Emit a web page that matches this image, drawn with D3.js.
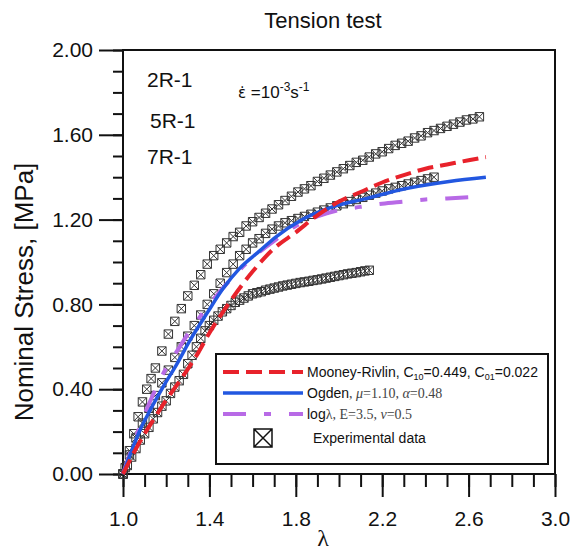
<!DOCTYPE html>
<html>
<head>
<meta charset="utf-8">
<script src="https://cdn.jsdelivr.net/npm/d3@7"></script>
<style>
  body { margin: 0; background: #fff; }
  text { font-family: "Liberation Sans", Arial, sans-serif; fill: #111; }
  .serif { font-family: "Liberation Serif", "Times New Roman", serif; }
</style>
</head>
<body>
<svg id="chart" width="574" height="554"></svg>
<script>
const lam2R = [1.00,1.01,1.03,1.05,1.07,1.09,1.11,1.13,1.15,1.18,1.21,1.24,1.27,1.30,1.33,1.36,1.39,1.42,1.45,1.48,1.51,1.54,1.57,1.60,1.63,1.66,1.69,1.72,1.75,1.78,1.81,1.84,1.87,1.90,1.93,1.96,1.99,2.02,2.05,2.08,2.11,2.14,2.17,2.20,2.23,2.26,2.29,2.32,2.35,2.38,2.41,2.44,2.47,2.50,2.53,2.56,2.59,2.62,2.65];
const sig2R = [0.00,0.03,0.11,0.19,0.27,0.34,0.40,0.45,0.50,0.58,0.66,0.72,0.78,0.84,0.89,0.94,0.99,1.03,1.06,1.09,1.12,1.14,1.17,1.19,1.21,1.23,1.25,1.27,1.29,1.31,1.33,1.345,1.36,1.38,1.395,1.41,1.425,1.44,1.455,1.47,1.48,1.495,1.51,1.52,1.535,1.55,1.56,1.57,1.585,1.595,1.61,1.62,1.63,1.64,1.65,1.66,1.67,1.675,1.685];

const lam5R = [1.00,1.03,1.06,1.09,1.12,1.15,1.18,1.21,1.24,1.27,1.30,1.33,1.36,1.39,1.42,1.45,1.48,1.51,1.54,1.57,1.60,1.63,1.66,1.69,1.72,1.75,1.78,1.81,1.84,1.87,1.90,1.93,1.96,1.99,2.02,2.05,2.08,2.11,2.14,2.17,2.20,2.23,2.26,2.29,2.32,2.35,2.38,2.41,2.44];
const sig5R = [0.00,0.09,0.17,0.24,0.31,0.37,0.43,0.49,0.55,0.60,0.65,0.70,0.75,0.80,0.85,0.90,0.95,0.99,1.03,1.06,1.09,1.11,1.135,1.155,1.17,1.185,1.195,1.205,1.215,1.225,1.235,1.245,1.255,1.265,1.275,1.285,1.295,1.305,1.315,1.325,1.335,1.345,1.352,1.36,1.368,1.376,1.384,1.392,1.40];

const lam7R = [1.00,1.02,1.04,1.06,1.08,1.10,1.12,1.14,1.16,1.18,1.20,1.22,1.24,1.26,1.28,1.30,1.32,1.34,1.36,1.38,1.40,1.42,1.44,1.46,1.48,1.50,1.52,1.54,1.56,1.58,1.60,1.62,1.64,1.66,1.68,1.70,1.72,1.74,1.76,1.78,1.80,1.82,1.84,1.86,1.88,1.90,1.92,1.94,1.96,1.98,2.00,2.02,2.04,2.06,2.08,2.10,2.12,2.14];
const sig7R = [0.00,0.04,0.08,0.12,0.16,0.19,0.22,0.26,0.29,0.32,0.345,0.38,0.41,0.44,0.47,0.52,0.56,0.60,0.64,0.675,0.70,0.725,0.745,0.765,0.78,0.795,0.81,0.82,0.83,0.84,0.85,0.855,0.86,0.867,0.872,0.877,0.882,0.887,0.891,0.895,0.899,0.903,0.906,0.909,0.913,0.916,0.92,0.924,0.928,0.932,0.936,0.94,0.944,0.947,0.95,0.954,0.958,0.961];

// model curves
const lamMR = [1.00,1.05,1.10,1.15,1.20,1.25,1.30,1.35,1.40,1.45,1.50,1.60,1.70,1.80,1.90,2.00,2.10,2.20,2.30,2.40,2.50,2.60,2.68];
const sigMR = [0.00,0.10,0.19,0.27,0.35,0.42,0.495,0.575,0.665,0.745,0.82,0.955,1.065,1.14,1.22,1.285,1.33,1.375,1.41,1.44,1.46,1.48,1.495];

const lamOg = [1.00,1.04,1.08,1.125,1.185,1.25,1.31,1.39,1.46,1.54,1.63,1.71,1.82,1.97,2.13,2.28,2.51,2.68];
const sigOg = [0.00,0.11,0.21,0.30,0.41,0.52,0.63,0.76,0.87,0.97,1.05,1.12,1.195,1.26,1.30,1.34,1.38,1.40];

const lamLog = [1.00,1.04,1.08,1.12,1.16,1.20,1.25,1.30,1.40,1.50,1.60,1.70,1.80,1.90,2.00,2.10,2.20,2.30,2.40,2.50,2.68];
const sigLog = [0.00,0.12,0.23,0.33,0.42,0.50,0.58,0.66,0.80,0.92,1.02,1.10,1.17,1.215,1.245,1.26,1.275,1.285,1.295,1.30,1.31];

const xMajor = [1.0,1.4,1.8,2.2,2.6,3.0];
const yMajor = [0.0,0.4,0.8,1.2,1.6,2.0];
const sampleNames = ["2R-1","5R-1","7R-1"];

const svg = d3.select("#chart");
const x = d3.scaleLinear().domain([1, 3]).range([123, 555]);
const y = d3.scaleLinear().domain([0, 2]).range([474, 50]);

// axes
const xMinor = d3.range(10, 31).map(v => v / 10);
const yMinor = d3.range(0, 21).map(v => v / 10);

svg.append("g").attr("transform", "translate(0,474)")
  .call(d3.axisBottom(x).tickValues(xMinor).tickSize(13).tickFormat(""))
  .call(g => g.select(".domain").remove());
svg.append("g").attr("transform", "translate(0,474)")
  .call(d3.axisBottom(x).tickValues(xMajor).tickSize(23).tickPadding(14).tickFormat(d3.format(".1f")))
  .call(g => g.select(".domain").remove());
svg.append("g").attr("transform", "translate(123,0)")
  .call(d3.axisLeft(y).tickValues(yMinor).tickSize(10).tickFormat(""))
  .call(g => g.select(".domain").remove());
svg.append("g").attr("transform", "translate(123,0)")
  .call(d3.axisLeft(y).tickValues(yMajor).tickSize(24).tickPadding(6).tickFormat(d3.format(".2f")))
  .call(g => g.select(".domain").remove());

svg.selectAll(".tick line").attr("stroke", "#111").attr("stroke-width", 2);
svg.selectAll(".tick text").attr("font-size", 21).attr("fill", "#111")
  .attr("font-family", "Liberation Sans, Arial, sans-serif");

// frame
svg.append("rect")
  .attr("x", x(1)).attr("y", y(2))
  .attr("width", x(3) - x(1)).attr("height", y(0) - y(2))
  .attr("fill", "none").attr("stroke", "#111").attr("stroke-width", 2);

// experimental markers
function boxX(cx, cy, h) {
  return `M${cx-h},${cy-h}h${2*h}v${2*h}h${-2*h}Z` +
         `M${cx-h},${cy-h}L${cx+h},${cy+h}M${cx+h},${cy-h}L${cx-h},${cy+h}`;
}
[[lam2R, sig2R], [lam5R, sig5R], [lam7R, sig7R]].forEach(([lx, sy]) => {
  svg.append("g").selectAll("path")
    .data(lx.map((l, i) => [l, sy[i]]))
    .join("path")
    .attr("d", d => boxX(x(d[0]), y(d[1]), 4.2))
    .attr("fill", "none")
    .attr("stroke", "#333")
    .attr("stroke-width", 1);
});

// model lines
const line = d3.line().x(d => x(d[0])).y(d => y(d[1])).curve(d3.curveMonotoneX);
const models = [
  {lx: lamLog, sy: sigLog, color: "#b86ae6", dash: "23,18,7,18", w: 4},
  {lx: lamOg, sy: sigOg, color: "#2257e0", dash: null, w: 3.5},
  {lx: lamMR, sy: sigMR, color: "#e8222b", dash: "16,7", w: 4}
];
models.forEach(m => {
  svg.append("path")
    .datum(m.lx.map((l, i) => [l, m.sy[i]]))
    .attr("d", line)
    .attr("fill", "none")
    .attr("stroke", m.color)
    .attr("stroke-width", m.w)
    .attr("stroke-dasharray", m.dash);
});

// titles
svg.append("text").attr("x", 323).attr("y", 28).attr("text-anchor", "middle")
  .attr("font-size", 22).text("Tension test");
svg.append("text").attr("transform", "translate(33,292) rotate(-90)")
  .attr("text-anchor", "middle").attr("font-size", 26).text("Nominal Stress, [MPa]");
svg.append("text").attr("class", "serif").attr("x", 323).attr("y", 546)
  .attr("text-anchor", "middle").attr("font-size", 24).text("λ");

// sample labels
const labX = [147, 150, 147], labY = [87, 128, 164];
sampleNames.forEach((s, i) => {
  svg.append("text").attr("x", labX[i]).attr("y", labY[i]).attr("font-size", 21).text(s);
});

// strain rate
const rate = svg.append("text").attr("x", 238).attr("y", 98).attr("font-size", 17);
rate.append("tspan").attr("font-family", "DejaVu Sans").attr("font-size", 15).text("ε\u0307");
rate.append("tspan").text(" =10");
rate.append("tspan").attr("dy", -7).attr("font-size", 12).text("-3");
rate.append("tspan").attr("dy", 7).text("s");
rate.append("tspan").attr("dy", -7).attr("font-size", 12).text("-1");

// legend
const lg = svg.append("g");
lg.append("rect").attr("x", 216).attr("y", 354).attr("width", 332).attr("height", 110)
  .attr("fill", "#fff").attr("stroke", "#111").attr("stroke-width", 2);
const rows = [372, 393, 414];
models.slice().reverse().forEach((m, i) => {
  lg.append("line").attr("x1", 223).attr("x2", 303).attr("y1", rows[i]).attr("y2", rows[i])
    .attr("stroke", m.color).attr("stroke-width", m.w).attr("stroke-dasharray", m.dash);
});
const t1 = lg.append("text").attr("x", 307).attr("y", rows[0] + 5).attr("font-size", 14);
t1.append("tspan").text("Mooney-Rivlin, C");
t1.append("tspan").attr("font-size", 9).attr("dy", 3).text("10");
t1.append("tspan").attr("dy", -3).text("=0.449, C");
t1.append("tspan").attr("font-size", 9).attr("dy", 3).text("01");
t1.append("tspan").attr("dy", -3).text("=0.022");

const t2 = lg.append("text").attr("x", 307).attr("y", rows[1] + 5).attr("font-size", 14);
t2.append("tspan").text("Ogden");
t2.append("tspan").attr("class", "serif").attr("fill", "#444").text(", ");
t2.append("tspan").attr("class", "serif").attr("font-style", "italic").attr("fill", "#444").text("μ");
t2.append("tspan").attr("class", "serif").attr("fill", "#444").text("=1.10, ");
t2.append("tspan").attr("class", "serif").attr("font-style", "italic").attr("fill", "#444").text("α");
t2.append("tspan").attr("class", "serif").attr("fill", "#444").text("=0.48");

const t3 = lg.append("text").attr("x", 307).attr("y", rows[2] + 5).attr("font-size", 14);
t3.append("tspan").text("log");
t3.append("tspan").attr("class", "serif").attr("fill", "#444").text("λ, E=3.5, ");
t3.append("tspan").attr("class", "serif").attr("font-style", "italic").attr("fill", "#444").text("ν");
t3.append("tspan").attr("class", "serif").attr("fill", "#444").text("=0.5");

lg.append("path").attr("d", boxX(263, 438, 9))
  .attr("fill", "none").attr("stroke", "#111").attr("stroke-width", 1.5);
lg.append("text").attr("x", 313).attr("y", 443).attr("font-size", 14).text("Experimental data");
</script>
</body>
</html>
